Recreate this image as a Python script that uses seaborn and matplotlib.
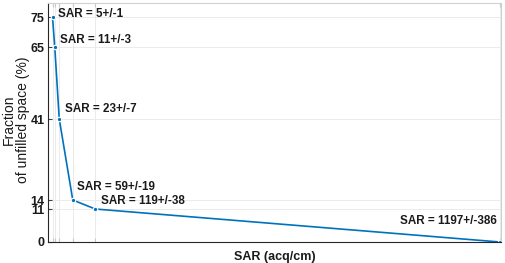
import seaborn as sns
import pandas as pd
import matplotlib.pyplot as plt

sar = [5, 11, 23, 59, 119, 1197]
unfilled = [75, 65, 41, 14, 11, 0]
labels = ['SAR = 5+/-1', 'SAR = 11+/-3', 'SAR = 23+/-7', 'SAR = 59+/-19',
          'SAR = 119+/-38', 'SAR = 1197+/-386']
# where each label sits (data coords)
label_x = [20, 25, 38, 70, 134, 931]
label_y = [76, 67.3, 44.3, 18.2, 13.8, 7.0]

sns.set_style("white")
plt.rcParams['font.family'] = ['Liberation Sans', 'DejaVu Sans']

df = pd.DataFrame({'SAR': sar, 'Unfilled': unfilled})

fig = plt.figure(figsize=(5.05, 2.63), dpi=100)
ax = fig.add_axes([48/505, 21/263, 453/505, 239/263])
sns.lineplot(data=df, x='SAR', y='Unfilled', color='#0072BD', marker='o',
             markersize=3.2, markeredgewidth=0.8, linewidth=1.2, ax=ax)

for x, y, t in zip(label_x, label_y, labels):
    ax.text(x, y, t, fontsize=8.4, fontweight='bold', va='center', ha='left',
            color='#1a1a1a')

ax.set_xlim(-7, 1200)
ax.set_ylim(0, 79.7)
ax.set_xticks(sar)
ax.set_xticklabels([])
ax.set_yticks(sorted(unfilled))
ax.grid(True, color='#ebebeb', linewidth=0.7)
ax.tick_params(axis='both', direction='in', length=3, labelsize=9, pad=2.5,
               bottom=True, left=True, color='#404040')
ax.tick_params(axis='x', top=True, color='#c8c8c8')
for lab in ax.get_yticklabels():
    lab.set_fontweight('bold')
    lab.set_color('#1a1a1a')
for side in ['left', 'bottom']:
    ax.spines[side].set_color('#262626')
    ax.spines[side].set_linewidth(0.8)
for side in ['top', 'right']:
    ax.spines[side].set_color('#d0d0d0')
    ax.spines[side].set_linewidth(0.8)

ax.set_xlabel('SAR (acq/cm)', fontsize=9, fontweight='bold', labelpad=4,
              color='#1a1a1a')
ax.set_ylabel('Fraction\nof unfilled space (%)', fontsize=10,
              color='#1a1a1a', linespacing=1.0)
ax.yaxis.set_label_coords(-0.039, 0.51)

fig.savefig('out.png', dpi=100)
